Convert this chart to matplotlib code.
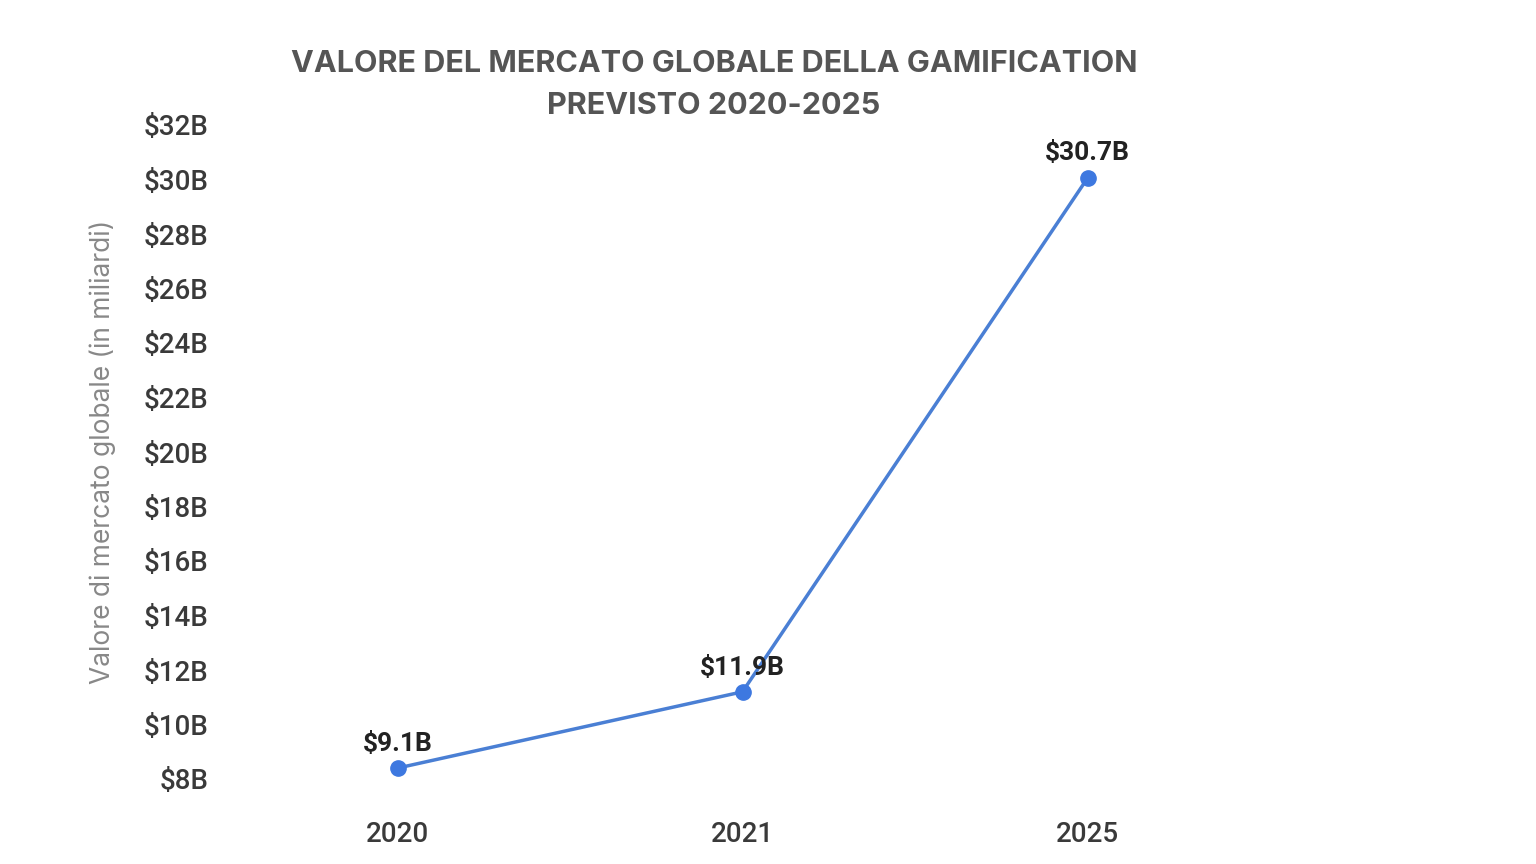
import matplotlib.pyplot as plt

years = ["2020", "2021", "2025"]
values = [8.4, 11.2, 30.05]
labels = ["$9.1B", "$11.9B", "$30.7B"]
yticks = list(range(8, 33, 2))

fig = plt.figure(figsize=(15.36, 8.64), dpi=100)
ax = fig.add_axes([225/1536, 85/864, 1035/1536, 654/864])
x = list(range(len(years)))
ax.plot(x, values, color="#4a7fd4", lw=2.5, marker="o", ms=11, mfc="#3d78e0", mec="#3d78e0")
offs = [(0, 17), (0, 17), (0, 18)]
for xi, v, l, o in zip(x, values, labels, offs):
    ax.annotate(l, (xi, v), xytext=o, textcoords="offset points", ha="center", va="center",
                fontsize=19, fontweight="bold", color="#222222", family="Roboto")
ax.set_xlim(-0.5, 2.5)
ax.set_ylim(8, 32)
ax.set_xticks(x, years)
ax.set_yticks(yticks, [f"${t}B" for t in yticks])
for s in ax.spines.values():
    s.set_visible(False)
ax.tick_params(length=0, labelsize=20, colors="#3a3a3a")
ax.tick_params(axis="x", pad=30)
ax.tick_params(axis="y", pad=12)
for t in ax.get_xticklabels() + ax.get_yticklabels():
    t.set_family("Roboto")
    t.set_fontweight("medium")
ax.set_ylabel("Valore di mercato globale (in miliardi)", fontsize=19, color="#888888", family="Inter", labelpad=20)
fig.text(714/1536, 1 - 85/864, "VALORE DEL MERCATO GLOBALE DELLA GAMIFICATION\nPREVISTO 2020-2025",
         ha="center", va="center", fontsize=22, fontweight="bold", color="#555555", family="Inter", linespacing=1.65)
fig.savefig("out.png", dpi=100)
